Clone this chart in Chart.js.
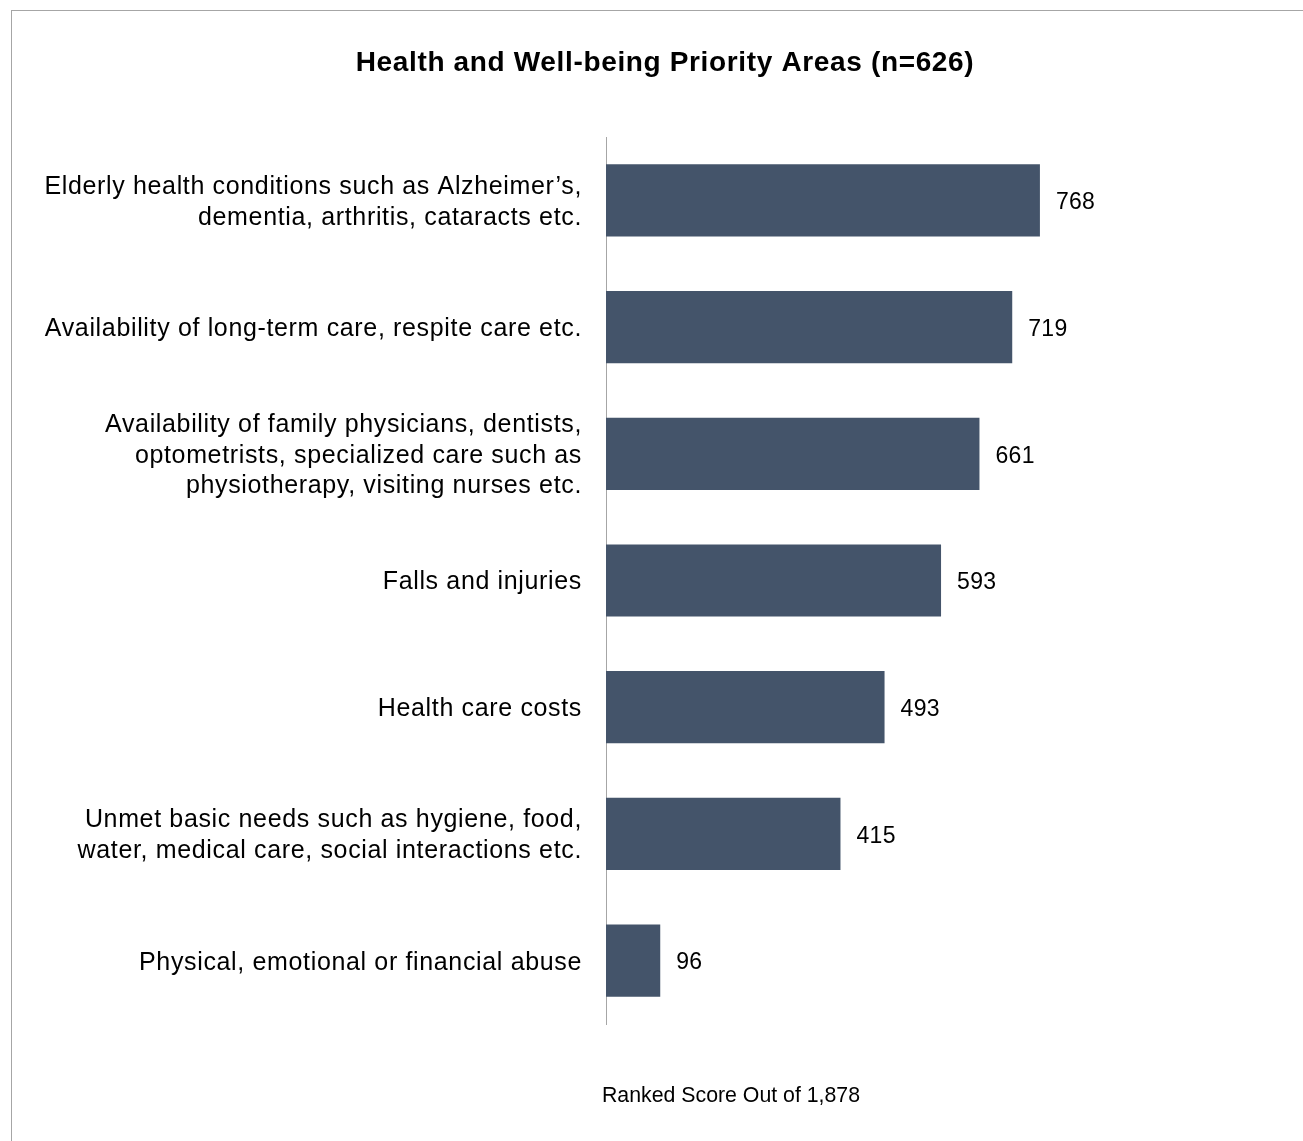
<!DOCTYPE html>
<html>
<head>
<meta charset="utf-8">
<script src="https://cdn.jsdelivr.net/npm/chart.js@4/dist/chart.umd.min.js"></script>
<style>
  html, body { margin: 0; padding: 0; background: #fff; overflow: hidden; }
  #frame { position: absolute; left: 11px; top: 10px; width: 1400px; height: 1300px; border: 1px solid #a6a6a6; box-sizing: border-box; }
  #wrap { position: absolute; left: 0; top: 0; width: 1303px; height: 1141px; }
</style>
</head>
<body>
<div id="frame"></div>
<div id="wrap"><canvas id="chart"></canvas></div>
<script>
// Chart text
const chartTitle = 'Health and Well-being Priority Areas (n=626)';
const axisCaption = 'Ranked Score Out of 1,878';

// Priority areas (each entry is one label, split into lines)
const categories = [
  ['Elderly health conditions such as Alzheimer\u2019s,', 'dementia, arthritis, cataracts etc.'],
  ['Availability of long-term care, respite care etc.'],
  ['Availability of family physicians, dentists,', 'optometrists, specialized care such as', 'physiotherapy, visiting nurses etc.'],
  ['Falls and injuries'],
  ['Health care costs'],
  ['Unmet basic needs such as hygiene, food,', 'water, medical care, social interactions etc.'],
  ['Physical, emotional or financial abuse']
];

// Ranked scores
const scores = [768, 719, 661, 593, 493, 415, 96];

const barColor = '#44546a';
const FONT = '"Liberation Sans", Arial, sans-serif';

// Slightly open letter spacing for the category labels
const spacing = {
  id: 'spacing',
  beforeDraw(chart) {
    chart.ctx.letterSpacing = '0.65px';
  }
};

// Value labels at the end of each bar, plus title and caption
const annotate = {
  id: 'annotate',
  afterDatasetsDraw(chart) {
    const ctx = chart.ctx;
    const meta = chart.getDatasetMeta(0);
    ctx.save();
    ctx.letterSpacing = '0.3px';
    ctx.fillStyle = '#000';
    ctx.font = '23px ' + FONT;
    ctx.textAlign = 'left';
    ctx.textBaseline = 'middle';
    meta.data.forEach((bar, i) => {
      ctx.fillText(String(scores[i]), bar.x + 16, bar.y + 2.5);
    });
    ctx.restore();
  },
  afterDraw(chart) {
    const ctx = chart.ctx;
    ctx.save();
    ctx.fillStyle = '#000';
    ctx.textAlign = 'center';
    ctx.textBaseline = 'middle';
    ctx.letterSpacing = '0.65px';
    ctx.font = 'bold 28px ' + FONT;
    ctx.fillText(chartTitle, 665, 63);
    ctx.letterSpacing = '0px';
    ctx.font = '21.3px ' + FONT;
    ctx.fillText(axisCaption, 731, 1096);
    ctx.restore();
  }
};

new Chart(document.getElementById('chart'), {
  type: 'bar',
  data: {
    labels: categories,
    datasets: [{
      data: scores,
      backgroundColor: barColor,
      borderWidth: 0,
      categoryPercentage: 1,
      barPercentage: 0.57
    }]
  },
  options: {
    indexAxis: 'y',
    responsive: true,
    maintainAspectRatio: false,
    animation: false,
    layout: { padding: { left: 20, right: 132, top: 137, bottom: 117 } },
    plugins: {
      legend: { display: false },
      title: { display: false },
      tooltip: { enabled: false }
    },
    scales: {
      x: { display: false, min: 0, max: 1000 },
      y: {
        grid: { display: false },
        border: { display: true, color: '#a6a6a6', width: 1 },
        ticks: {
          color: '#000',
          padding: 16,
          labelOffset: 2,
          font: { family: FONT, size: 25, lineHeight: 1.23 }
        },
        afterFit(scale) { scale.width = 586; }
      }
    }
  },
  plugins: [spacing, annotate]
});
</script>
</body>
</html>
